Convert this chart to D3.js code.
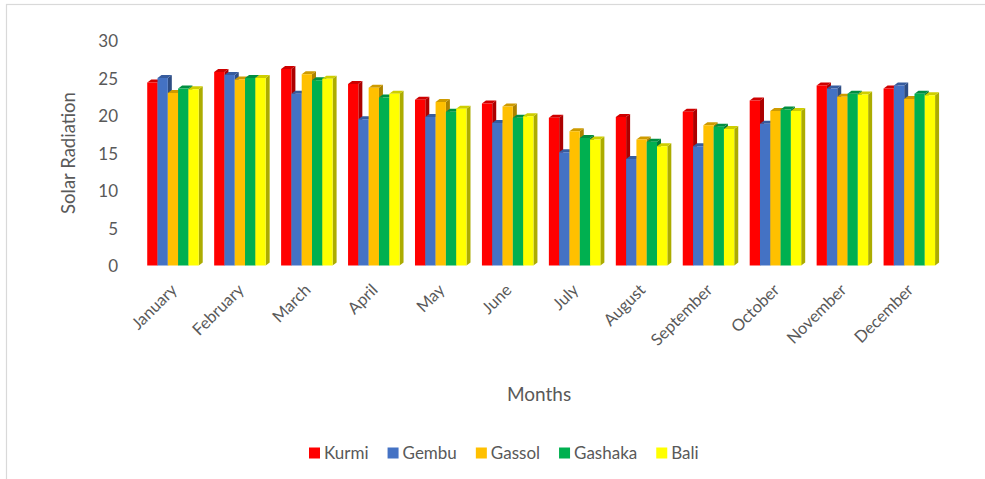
<!DOCTYPE html>
<html><head><meta charset="utf-8">
<script src="https://cdn.jsdelivr.net/npm/d3@7"></script>
<style>body{margin:0;background:#fff}svg{display:block}text{font-family:Lato,"Open Sans",sans-serif;fill:#595959}</style>
</head><body><svg id="c" width="985" height="479"></svg>
<script>
const months = ["January","February","March","April","May","June","July","August","September","October","November","December"];
const seriesNames = ["Kurmi","Gembu","Gassol","Gashaka","Bali"];
const colors = ["#ff0000","#4472c4","#ffc000","#00b050","#ffff00"];
const kurmi   = [24.4,25.8,26.2,24.2,22.1,21.6,19.7,19.8,20.5,22.0,24.0,23.6];
const gembu   = [25.0,25.4,22.9,19.5,19.8,19.0,15.1,14.2,15.9,18.9,23.6,24.0];
const gassol  = [23.0,24.8,25.5,23.7,21.8,21.2,17.9,16.8,18.7,20.6,22.5,22.2];
const gashaka = [23.6,25.0,24.7,22.4,20.5,19.7,17.0,16.5,18.5,20.8,22.9,22.9];
const bali    = [23.5,25.0,24.9,22.9,20.9,19.9,16.8,15.9,18.2,20.6,22.8,22.7];
const yTicks = [0,5,10,15,20,25,30];
const seriesVals = [kurmi,gembu,gassol,gashaka,bali];

const svg = d3.select("#c");
svg.append("rect").attr("x",6.5).attr("y",4.5).attr("width",1000).attr("height",500)
  .attr("fill","none").attr("stroke","#d9d9d9").attr("stroke-width",1.2);

const x = d3.scaleBand().domain(months).range([139.5,942.8]).padding(0);
const inner = d3.scaleBand().domain(seriesNames).range([0,51.5]);
const y = d3.scaleLinear().domain([0,30]).range([265.5,40.5]);
const dx = 4, dy = 3;

const yAxis = d3.axisLeft(y).tickValues(yTicks).tickSize(0).tickPadding(0);
const ga = svg.append("g").attr("transform","translate(118,0)").call(yAxis);
ga.select(".domain").remove();
ga.selectAll("text").style("font-size","17px").style("fill","#595959")
  .style("font-family","Lato,sans-serif").attr("dy","0.36em");

const g = svg.append("g");
months.forEach((m,i)=>{
  const gx = x(m) + (x.bandwidth()-51.5)/2;
  seriesNames.forEach((s,j)=>{
    const v = seriesVals[j][i];
    const x0 = gx + inner(s), w = inner.bandwidth();
    const yt = y(v), yb = y(0);
    const c = colors[j];
    g.append("path").attr("d",`M${x0+w},${yt}L${x0+w+dx},${yt-dy}L${x0+w+dx},${yb-dy}L${x0+w},${yb}Z`)
      .attr("fill",d3.color(c).darker(1.1));
    g.append("path").attr("d",`M${x0},${yt}L${x0+dx},${yt-dy}L${x0+w+dx},${yt-dy}L${x0+w},${yt}Z`)
      .attr("fill",d3.color(c).darker(0.6));
    g.append("rect").attr("x",x0).attr("y",yt).attr("width",w).attr("height",yb-yt).attr("fill",c);
  });
});

months.forEach(m=>{
  const cx = x(m)+x.bandwidth()/2;
  svg.append("text").attr("transform",`translate(${cx+5},${291}) rotate(-45)`)
    .attr("text-anchor","end").style("font-size","16.5px").text(m);
});

svg.append("text").attr("transform","translate(75,153) rotate(-90)").attr("text-anchor","middle")
  .style("font-size","18.5px").text("Solar Radiation");
svg.append("text").attr("x",539).attr("y",401).attr("text-anchor","middle")
  .style("font-size","19px").text("Months");

const lg = svg.append("g");
let lx = 309;
seriesNames.forEach((s,j)=>{
  lg.append("rect").attr("x",lx).attr("y",447.5).attr("width",11).attr("height",11).attr("fill",colors[j]);
  const t = lg.append("text").attr("x",lx+15).attr("y",459).style("font-size","17px").text(s);
  lx += 15 + t.node().getComputedTextLength() + 19;
});
</script></body></html>
